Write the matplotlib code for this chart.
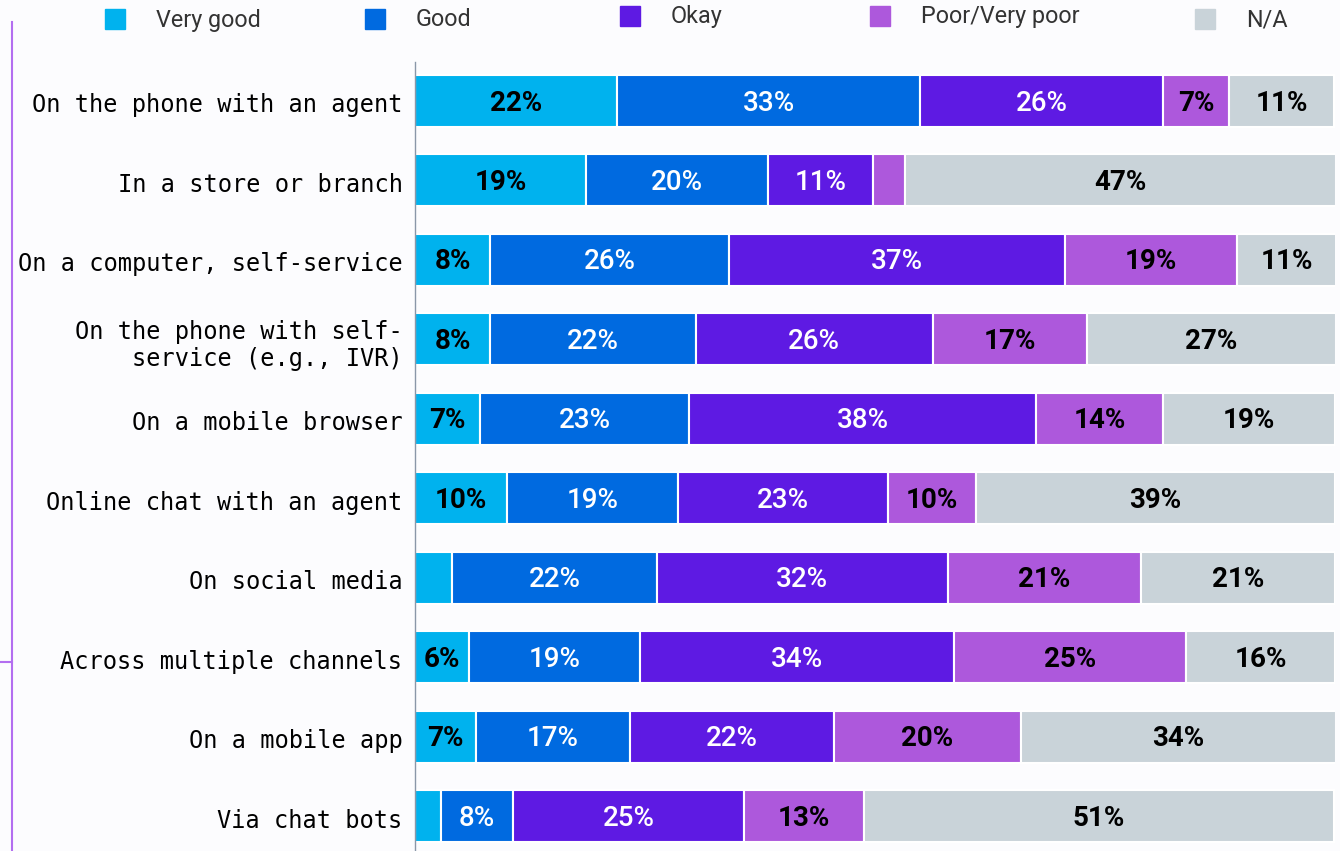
import matplotlib.pyplot as plt
import matplotlib.transforms as mtransforms
from matplotlib.patches import Rectangle
from matplotlib.lines import Line2D

# channels, top to bottom
channels = [
    "On the phone with an agent",
    "In a store or branch",
    "On a computer, self-service",
    "On the phone with self-\nservice (e.g., IVR)",
    "On a mobile browser",
    "Online chat with an agent",
    "On social media",
    "Across multiple channels",
    "On a mobile app",
    "Via chat bots",
]
ratings = ["Very good", "Good", "Okay", "Poor/Very poor", "N/A"]

very_good = [22.0, 18.6, 8.2, 8.2, 7.1, 10.0, 4.0, 5.9, 6.6, 2.8]
good = [32.9, 19.8, 25.9, 22.3, 22.7, 18.6, 22.3, 18.6, 16.8, 7.8]
okay = [26.4, 11.4, 36.6, 25.8, 37.7, 22.8, 31.6, 34.1, 22.1, 25.2]
poor = [7.2, 3.5, 18.6, 16.7, 13.8, 9.6, 21.0, 25.2, 20.4, 13.0]
na = [11.4, 46.8, 10.9, 27.1, 18.7, 39.0, 21.1, 16.2, 34.2, 51.1]

colors = ["#00b2ee", "#006ae0", "#5e1ae3", "#ad58dc", "#c9d3d9"]
text_colors = ["black", "white", "white", "black", "black"]
weights = ["bold", "medium", "medium", "bold", "bold"]

bg = "#fcfcfe"
fig = plt.figure(figsize=(13.4, 8.51), dpi=100, facecolor=bg)
ax = fig.add_axes([415 / 1340, 0, 920 / 1340, 1 - 62 / 851])
ax.set_facecolor(bg)

series = [very_good, good, okay, poor, na]
ypos = list(range(len(channels)))
left = [0.0] * len(channels)
for vals, col, tc, w in zip(series, colors, text_colors, weights):
    bars = ax.barh(ypos, vals, left=left, height=0.655, color=col,
                   edgecolor="white", linewidth=1.5)
    for b, v in zip(bars, vals):
        if v >= 5:
            ax.annotate(f"{v:.0f}%",
                        (b.get_x() + b.get_width() / 2, b.get_y() + b.get_height() / 2),
                        xytext=(0, -1.5), textcoords="offset points",
                        ha="center", va="center", color=tc,
                        fontsize=20, fontweight=w, family="Roboto")
    left = [l + v for l, v in zip(left, vals)]

ax.set_xlim(0, 100)
ax.set_ylim(9.44, -0.49)
ax.set_yticks(ypos)
ax.set_yticklabels(channels, family="DejaVu Sans Mono", fontsize=17.0,
                   linespacing=1.15)
ax.tick_params(axis="y", length=0, pad=9)
shift = mtransforms.ScaledTranslation(0, -2 / 100, fig.dpi_scale_trans)
for lbl in ax.get_yticklabels():
    lbl.set_transform(lbl.get_transform() + shift)
ax.set_xticks([])
for s in ["top", "right", "bottom"]:
    ax.spines[s].set_visible(False)
ax.spines["left"].set_color("#8a97a8")
ax.spines["left"].set_linewidth(1)

# legend across the top
leg_x = [105, 365, 620, 870, 1195]
leg_y = [19, 19, 16, 16, 19]
for name, col, x, y in zip(ratings, colors, leg_x, leg_y):
    fig.patches.append(Rectangle((x / 1340, 1 - (y + 10) / 851), 20 / 1340, 20 / 851,
                                 transform=fig.transFigure, color=col))
    fig.text((x + 51) / 1340, 1 - (y + 1) / 851, name, ha="left", va="center",
             fontsize=16.8, family="Roboto", color="#333333")

# purple bracket on the far left
fig.add_artist(Line2D([12 / 1340, 12 / 1340], [0, 1 - 22 / 851],
                      color="#b36ef0", linewidth=1.5))
fig.add_artist(Line2D([0, 12 / 1340], [1 - 662 / 851, 1 - 662 / 851],
                      color="#b36ef0", linewidth=1.5))

fig.savefig("out.png", dpi=100, facecolor=bg)
